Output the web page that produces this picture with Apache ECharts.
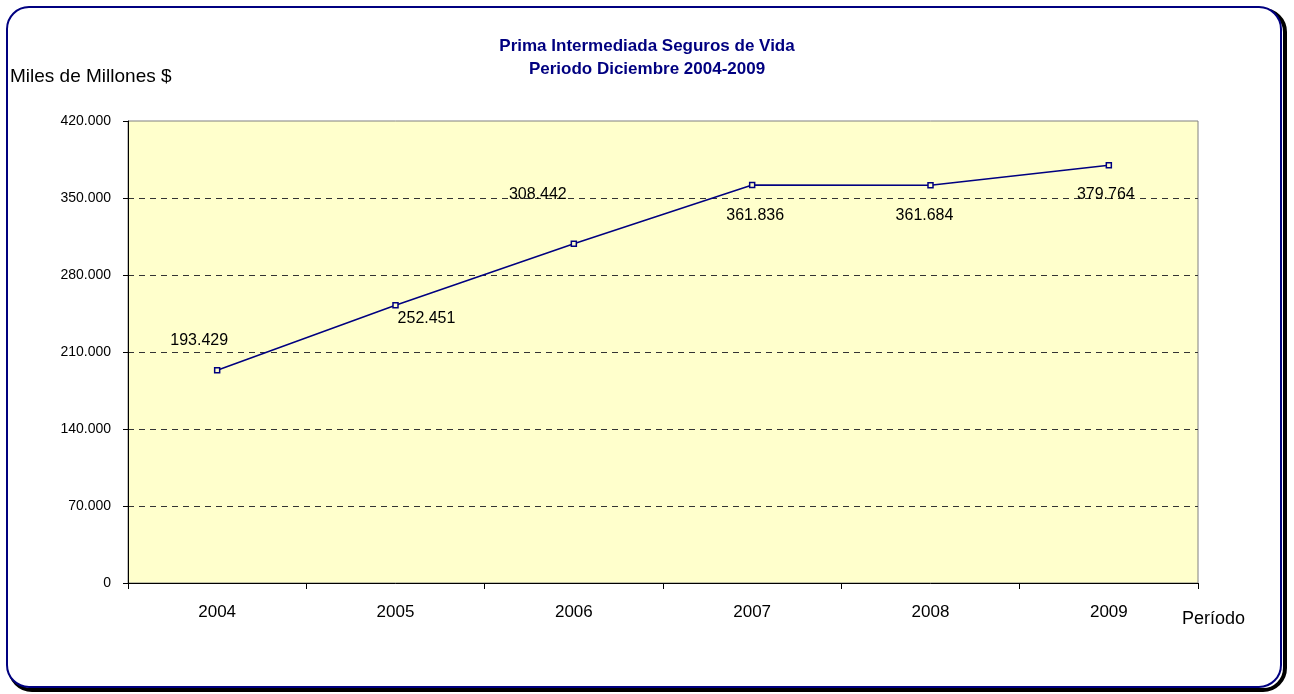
<!DOCTYPE html>
<html>
<head>
<meta charset="utf-8">
<script src="https://cdn.jsdelivr.net/npm/echarts@6/dist/echarts.min.js"></script>
<style>
html, body { margin: 0; padding: 0; background: #ffffff; }
#main { width: 1294px; height: 694px; }
</style>
</head>
<body>
<div id="main"></div>
<script>
var years = ['2004', '2005', '2006', '2007', '2008', '2009'];
var prima = [193429, 252451, 308442, 361836, 361684, 379764];
var yTicks = { min: 0, max: 420000, interval: 70000 };

function fmtMiles(v) {
	var s = String(Math.round(v));
	return s.replace(/\B(?=(\d{3})+(?!\d))/g, '.');
}

// label offsets relative to each point (layout only)
var offsets = [[-18, -30], [31, 13], [-36, -49], [3, 31], [-6, 30], [-3, 29]];

var seriesData = prima.map(function (v, i) {
	return { value: v, label: { offset: offsets[i] } };
});

var option = {
	animation: false,
	backgroundColor: '#ffffff',
	title: {
		text: 'Prima Intermediada Seguros de Vida\nPeriodo Diciembre 2004-2009',
		left: 'center',
		top: 30,
		textStyle: {
			fontFamily: '"Liberation Sans Narrow", "Liberation Sans", Arial, sans-serif',
			fontSize: 17,
			fontWeight: 'bold',
			color: '#000080',
			lineHeight: 23
		}
	},
	graphic: [
		{
			type: 'rect', z: -10,
			shape: { x: 10, y: 10, width: 1275, height: 680, r: 22 },
			style: { fill: 'none', stroke: '#000000', lineWidth: 4 }
		},
		{
			type: 'rect', z: -9,
			shape: { x: 7, y: 7, width: 1274, height: 680, r: 22 },
			style: { fill: '#ffffff', stroke: '#000080', lineWidth: 2 }
		},
		{
			type: 'text', left: 10, top: 67,
			style: { text: 'Miles de Millones $', fontSize: 19, fill: '#000000',
				fontFamily: '"Liberation Sans", Arial, sans-serif' }
		},
		{
			type: 'text', left: 1182, top: 610,
			style: { text: 'Período', fontSize: 18, fill: '#000000',
				fontFamily: '"Liberation Sans", Arial, sans-serif' }
		}
	],
	grid: {
		left: 128, right: 96, top: 121, bottom: 111,
		show: true,
		backgroundColor: '#FFFFCC',
		borderColor: '#808080',
		borderWidth: 1
	},
	xAxis: {
		type: 'category',
		data: years,
		boundaryGap: true,
		axisLine: { lineStyle: { color: '#000000', width: 1 } },
		axisTick: { show: true, length: 6, lineStyle: { color: '#000000' } },
		axisLabel: {
			margin: 21, fontSize: 17, color: '#000000',
			fontFamily: '"Liberation Sans", Arial, sans-serif'
		},
		splitLine: { show: false }
	},
	yAxis: {
		type: 'value',
		min: yTicks.min,
		max: yTicks.max,
		interval: yTicks.interval,
		axisLine: { show: true, lineStyle: { color: '#000000', width: 1 } },
		axisTick: { show: true, length: 5, lineStyle: { color: '#000000' } },
		axisLabel: {
			margin: 17, fontSize: 14, color: '#000000',
			fontFamily: '"Liberation Sans Narrow", "Liberation Sans", Arial, sans-serif',
			formatter: fmtMiles
		},
		splitLine: {
			show: true,
			showMinLine: false,
			showMaxLine: false,
			lineStyle: { color: '#333333', type: [6, 5], width: 1 }
		}
	},
	series: [{
		type: 'line',
		data: seriesData,
		symbol: 'rect',
		symbolSize: 5,
		lineStyle: { color: '#000080', width: 1.5 },
		itemStyle: { color: '#FFFFCC', borderColor: '#000080', borderWidth: 1.5 },
		label: {
			show: true,
			position: 'inside',
			fontSize: 16,
			color: '#000000',
			fontFamily: '"Liberation Sans", Arial, sans-serif',
			formatter: function (p) { return fmtMiles(p.value); }
		}
	}]
};

var myChart = echarts.init(document.getElementById('main'));
myChart.setOption(option, true);
window.onresize = function () {
	myChart.resize();
};
</script>
</body>
</html>
